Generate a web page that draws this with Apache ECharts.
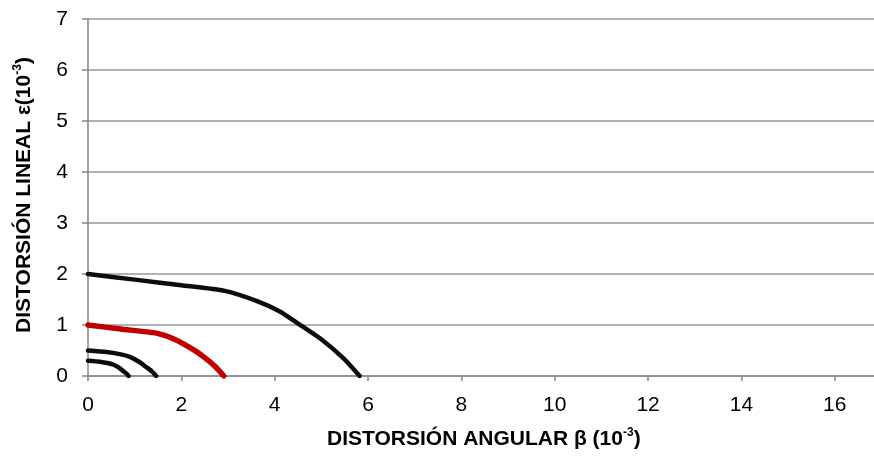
<!DOCTYPE html>
<html>
<head>
<meta charset="utf-8">
<script src="https://cdn.jsdelivr.net/npm/echarts@6/dist/echarts.min.js"></script>
<style>
  html, body { margin: 0; padding: 0; background: #fff; }
  #chart { width: 874px; height: 456px; }
</style>
</head>
<body>
<div id="chart"></div>
<script>
// Curves of linear distortion vs. angular distortion (both in 10^-3)
const curveE2   = [[0, 2.0], [1.0, 1.89], [2.0, 1.78], [2.93, 1.67], [3.65, 1.46], [4.1, 1.27], [4.45, 1.06], [4.97, 0.74], [5.47, 0.35], [5.82, 0]];
const curveE1   = [[0, 1.0], [0.7, 0.92], [1.46, 0.84], [1.85, 0.72], [2.23, 0.53], [2.5, 0.36], [2.73, 0.18], [2.91, 0]];
const curveE05  = [[0, 0.5], [0.4, 0.47], [0.73, 0.42], [0.91, 0.37], [1.11, 0.27], [1.24, 0.18], [1.37, 0.09], [1.46, 0]];
const curveE03  = [[0, 0.3], [0.25, 0.28], [0.44, 0.25], [0.55, 0.22], [0.67, 0.16], [0.75, 0.1], [0.82, 0.05], [0.87, 0]];

const xTitle = 'DISTORSIÓN ANGULAR β (10';
const yTitle = 'DISTORSIÓN LINEAL ε(10';

const chart = echarts.init(document.getElementById('chart'), null, { renderer: 'canvas' });

function line(data, color, width) {
  return {
    type: 'line',
    data: data,
    smooth: 0.2,
    showSymbol: false,
    symbol: 'none',
    lineStyle: { color: color, width: width, cap: 'round', join: 'round' },
    animation: false
  };
}

const titleRich = {
  t: { fontFamily: 'Liberation Sans', fontWeight: 'bold', fontSize: 21, color: '#000', lineHeight: 24 },
  s: { fontFamily: 'Liberation Sans', fontWeight: 'bold', fontSize: 12, color: '#000', lineHeight: 24, verticalAlign: 'top' }
};

chart.setOption({
  backgroundColor: '#fff',
  animation: false,
  grid: { left: 88, right: 0, top: 19, bottom: 80, containLabel: false },
  xAxis: {
    type: 'value',
    min: 0,
    max: 16.84,
    interval: 2,
    axisLine: { show: true, lineStyle: { color: '#868686', width: 1.5 } },
    axisTick: { show: true, length: 5, lineStyle: { color: '#868686', width: 1.5 } },
    axisLabel: {
      margin: 19,
      fontFamily: 'Liberation Sans',
      fontSize: 21,
      color: '#000',
      showMaxLabel: false,
      formatter: v => (Math.abs(v % 2) < 1e-9 ? String(v) : '')
    },
    splitLine: { show: false }
  },
  yAxis: {
    type: 'value',
    min: 0,
    max: 7,
    interval: 1,
    axisLine: { show: true, lineStyle: { color: '#868686', width: 1.5 } },
    axisTick: { show: true, length: 6, lineStyle: { color: '#868686', width: 1.5 } },
    axisLabel: { margin: 20, fontFamily: 'Liberation Sans', fontSize: 21, color: '#000' },
    splitLine: { show: true, lineStyle: { color: '#999999', width: 1.5 } }
  },
  graphic: [
    {
      type: 'text',
      left: 327,
      top: 427,
      style: {
        text: '{t|' + xTitle + '}{s|-3}{t|)}',
        rich: titleRich
      }
    },
    {
      type: 'text',
      x: 12,
      y: 195,
      rotation: Math.PI / 2,
      style: {
        text: '{t|' + yTitle + '}{s|-3}{t|)}',
        rich: titleRich,
        align: 'center',
        verticalAlign: 'top'
      }
    }
  ],
  series: [
    line(curveE2, '#0d0d0d', 4.5),
    line(curveE1, '#c00000', 5.5),
    line(curveE05, '#0d0d0d', 4.5),
    line(curveE03, '#0d0d0d', 4.5)
  ]
});
</script>
</body>
</html>
